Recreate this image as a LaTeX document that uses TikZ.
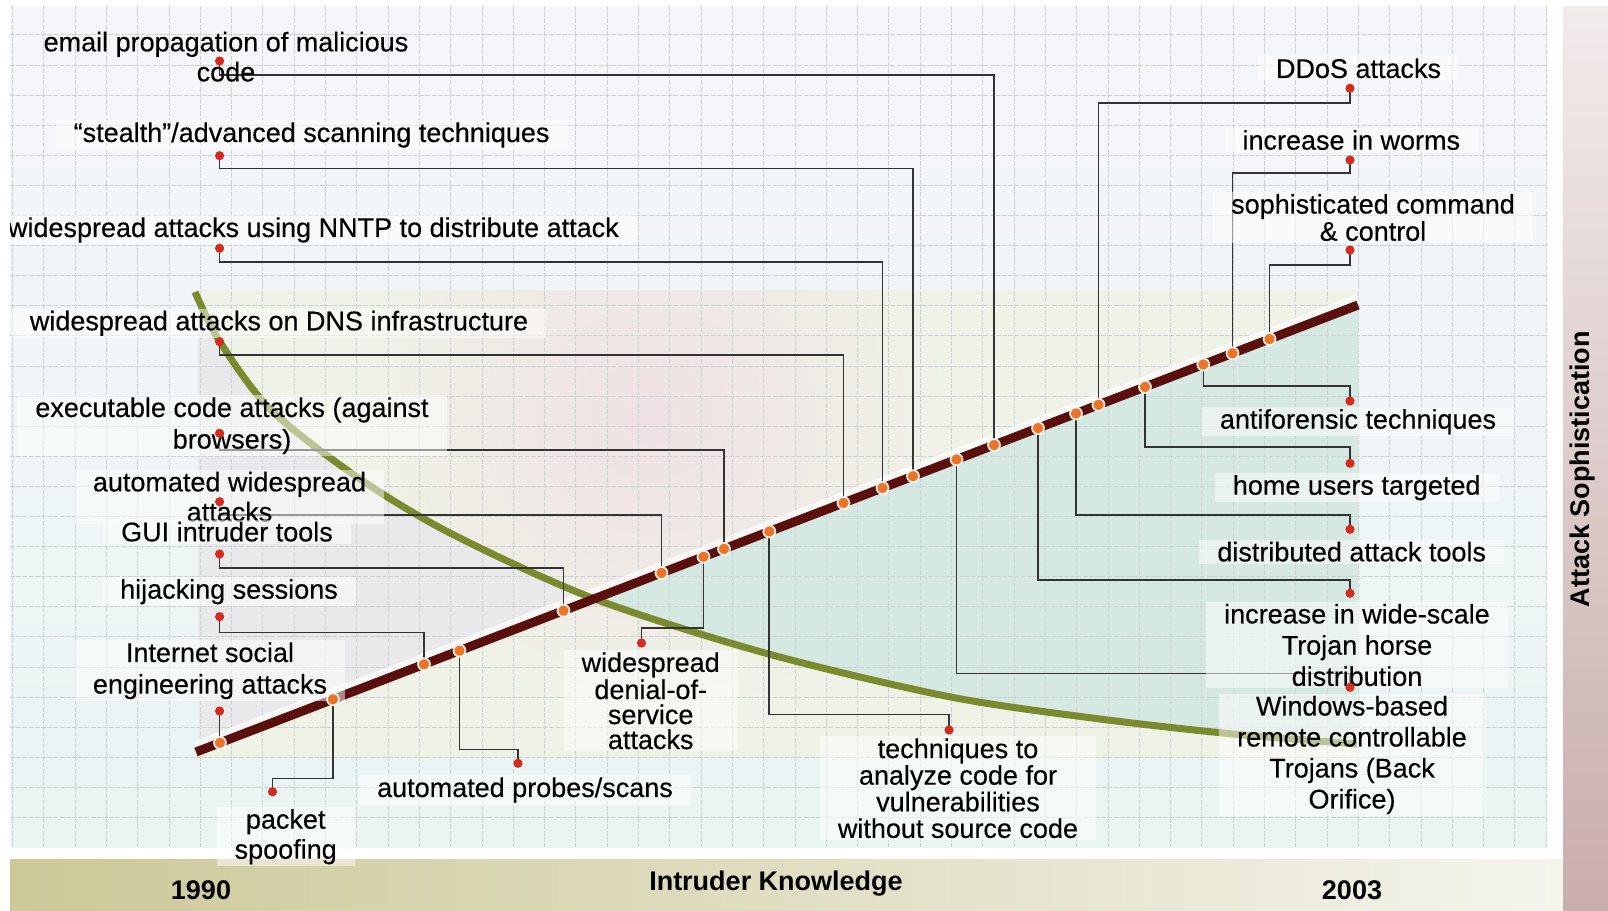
\documentclass[tikz,border=0pt]{standalone}
\usepackage{fontspec}
\setmainfont{Liberation Sans}
\newfontfamily\labfont{Liberation Sans}[FakeBold=0.35]
\usetikzlibrary{calc}

\definecolor{gridline}{HTML}{CDD2D5}
\definecolor{trendred}{HTML}{5A0F0C}
\definecolor{knowgreen}{HTML}{7A8A2E}
\definecolor{markorange}{HTML}{EB7428}
\definecolor{dotred}{HTML}{D52A20}
\definecolor{wire}{HTML}{333333}
\definecolor{tealfill}{HTML}{D5E8E1}
\definecolor{grayfill}{HTML}{E9E9EC}
\definecolor{creamfill}{HTML}{EFF2E6}
\definecolor{pinkglow}{HTML}{EFE1E4}
\definecolor{topbase}{HTML}{F6F6FA}
\definecolor{lowbase}{HTML}{E9F4F3}
\definecolor{bandleft}{HTML}{CDC898}
\definecolor{bandright}{HTML}{F4F4EC}
\definecolor{sidetop}{HTML}{F2EBEB}
\definecolor{sidebottom}{HTML}{C8AEAC}

% point on the trend line at a given horizontal position
\newcommand\onTrend[2]{\coordinate (#1) at ($(t0)!{(#2-196)/1162}!(t1)$);}

\tikzset{
  lab/.style={align=center, font=\labfont\fontsize{13.5}{15.5}\selectfont,
    fill=white, fill opacity=0.5, text opacity=1,
    inner xsep=9pt, inner ysep=1pt},
  axislab/.style={font=\bfseries\fontsize{13.5}{15}\selectfont, inner sep=0pt},
  wire/.style={draw=wire, line width=0.8pt},
  marker/.style={circle, minimum size=6pt, inner sep=0pt, fill=markorange,
    draw=white, draw opacity=0.85, line width=0.9pt},
  reddot/.style={circle, minimum size=4.6pt, inner sep=0pt, fill=dotred},
  gridrule/.style={draw=gridline, line width=0.5pt, dash pattern=on 2.5pt off 0.6pt},
}

\begin{document}
\begin{tikzpicture}[x=0.5pt, y=-0.5pt]
\useasboundingbox (0,0) rectangle (1608,911);
\begin{scope}
\clip (10,6) rectangle (1608,911);

% backgrounds
\shade[top color=topbase, bottom color=lowbase] (10,6) rectangle (1547,847);
\fill[creamfill] (198,290) rectangle (1358,760);
\begin{scope}
  \clip (198,290) rectangle (1358,760);
  \shade[inner color=pinkglow, outer color=creamfill] (650,420) circle (300);
\end{scope}
\shade[left color=bandleft, right color=bandright] (10,859) rectangle (1563,911);
\shade[top color=sidetop, bottom color=sidebottom] (1563,6) rectangle (1608,911);

% trend line end points
\coordinate (t0) at (196,752);
\coordinate (t1) at (1358,305);

% areas between the two curves
\fill[grayfill] plot[smooth] coordinates {(198,297) (220,342) (271,410) (357,477)
  (450,533) (593.5,598.5)} -- (198,751.2) -- cycle;
\fill[tealfill] plot[smooth] coordinates {(593.5,598.5) (768.6,654) (950.7,697)
  (1100,719) (1233,734) (1357,744)} -- (t1) -- cycle;

% grid
\foreach \i in {0,...,49} \draw[gridrule] ({12.5+31.3*\i},6) -- ({12.5+31.3*\i},847);
\foreach \j in {1,...,27} \draw[gridrule] (10,{4.8+30.1*\j}) -- (1547,{4.8+30.1*\j});

% curves
\draw[white, opacity=0.7, line width=4pt] ($(t0)+(0,-7)$) -- ($(t1)+(0,-7)$);
\draw[knowgreen, line width=3.5pt] plot[smooth] coordinates {(195,292) (220,342)
  (271,410) (357,477) (450,533) (593.5,598.5) (768.6,654) (950.7,697)
  (1100,719) (1233,734) (1357,744)};
\draw[trendred, line width=4.5pt] (t0) -- (t1);

% points on the trend line
\onTrend{mSocial}{220}
\onTrend{mSpoof}{333}
\onTrend{mHijack}{424}
\onTrend{mProbe}{459.5}
\onTrend{mGui}{563.5}
\onTrend{mAuto}{661.5}
\onTrend{mDos}{703.5}
\onTrend{mExec}{724}
\onTrend{mAnalyze}{769.3}
\onTrend{mDns}{843.5}
\onTrend{mNntp}{882.5}
\onTrend{mStealth}{913}
\onTrend{mWin}{956.5}
\onTrend{mEmail}{994}
\onTrend{mTrojan}{1038}
\onTrend{mDist}{1076}
\onTrend{mDdos}{1098.5}
\onTrend{mHome}{1145}
\onTrend{mAnti}{1203.3}
\onTrend{mWorm}{1232.5}
\onTrend{mCc}{1269.5}

% label anchor dots
\coordinate (dEmail) at (219.6,61);
\coordinate (dStealth) at (219.6,155.7);
\coordinate (dNntp) at (219.6,248.3);
\coordinate (dDns) at (219.6,341.7);
\coordinate (dExec) at (219.6,433.3);
\coordinate (dAuto) at (219.6,501.7);
\coordinate (dGui) at (219.6,554);
\coordinate (dHijack) at (219.6,616.7);
\coordinate (dSocial) at (219.6,711);
\coordinate (dSpoof) at (272.5,791.7);
\coordinate (dProbe) at (518,763.3);
\coordinate (dDos) at (641.5,643);
\coordinate (dAnalyze) at (949,730);
\coordinate (dDdos) at (1350,88.3);
\coordinate (dWorm) at (1350,160);
\coordinate (dCc) at (1350,250);
\coordinate (dAnti) at (1350,401);
\coordinate (dHome) at (1350,463.3);
\coordinate (dDist) at (1350,529.3);
\coordinate (dTrojan) at (1350,593.3);
\coordinate (dWin) at (1350,687.3);

% connectors
\draw[wire] (dEmail) -- ++(0,14) -| (mEmail);
\draw[wire] (dStealth) -- ++(0,12.6) -| (mStealth);
\draw[wire] (dNntp) -- ++(0,13.4) -| (mNntp);
\draw[wire] (dDns) -- ++(0,13.3) -| (mDns);
\draw[wire] (dExec) -- ++(0,16.7) -| (mExec);
\draw[wire] (dAuto) -- ++(0,13.3) -| (mAuto);
\draw[wire] (dGui) -- ++(0,14) -| (mGui);
\draw[wire] (dHijack) -- ++(0,15.6) -| (mHijack);
\draw[wire] (dSocial) -- (dSocial |- mSocial);
\draw[wire] (dSpoof) -- ++(0,-13.4) -| (mSpoof);
\draw[wire] (dProbe) -- ++(0,-14) -| (mProbe);
\draw[wire] (dDos) -- ++(0,-15) -| (mDos);
\draw[wire] (dAnalyze) -- ++(0,-15.7) -| (mAnalyze);
\draw[wire] (dDdos) -- ++(0,14.4) -| (mDdos);
\draw[wire] (dWorm) -- ++(0,12.7) -| (mWorm);
\draw[wire] (dCc) -- ++(0,15) -| (mCc);
\draw[wire] (dAnti) -- ++(0,-15) -| (mAnti);
\draw[wire] (dHome) -- ++(0,-16.6) -| (mHome);
\draw[wire] (dDist) -- ++(0,-14.3) -| (mDist);
\draw[wire] (dTrojan) -- ++(0,-13.3) -| (mTrojan);
\draw[wire] (dWin) -- ++(0,-14) -| (mWin);

% labels
\node[lab, fill opacity=0, font=\labfont\fontsize{13.5}{15}\selectfont] (lEmail) at (226,56.7) {email propagation of malicious\\code};
\node[lab] (lStealth) at (311.6,135) {“stealth”/advanced scanning techniques};
\node[lab] (lNntp) at (313.4,230) {widespread attacks using NNTP to distribute attack};
\node[lab] (lDns) at (279,323.3) {widespread attacks on DNS infrastructure};
\node[lab, font=\labfont\fontsize{13.5}{15.8}\selectfont] (lExec) at (232,425.8) {executable code attacks (against\\browsers)};
\node[lab, font=\labfont\fontsize{13.5}{15}\selectfont] (lAuto) at (229.5,496.7) {automated widespread\\attacks};
\node[lab] (lGui) at (227,531.7) {GUI intruder tools};
\node[lab] (lHijack) at (229,591.7) {hijacking sessions};
\node[lab, font=\labfont\fontsize{13.5}{15.8}\selectfont] (lSocial) at (210,670.8) {Internet social\\engineering attacks};
\node[lab, font=\labfont\fontsize{13.5}{15}\selectfont] (lSpoof) at (285.7,836.7) {packet\\spoofing};
\node[lab] (lProbe) at (525,790) {automated probes/scans};
\node[lab, font=\labfont\fontsize{13.5}{12.5}\selectfont] (lDos) at (650.7,700.8) {widespread\\denial-of-\\service\\attacks};
\node[lab, font=\labfont\fontsize{13.5}{13.3}\selectfont] (lAnalyze) at (958,788.3) {techniques to\\analyze code for\\vulnerabilities\\without source code};
\node[lab] (lDdos) at (1358.5,68.3) {DDoS attacks};
\node[lab] (lWorm) at (1351.3,140) {increase in worms};
\node[lab, font=\labfont\fontsize{13.5}{12.5}\selectfont] (lCc) at (1373,217.5) {sophisticated command\\\& control};
\node[lab] (lAnti) at (1358,421.7) {antiforensic techniques};
\node[lab] (lHome) at (1356.7,487.7) {home users targeted};
\node[lab] (lDist) at (1351.7,551.7) {distributed attack tools};
\node[lab, font=\labfont\fontsize{13.5}{15.6}\selectfont] (lTrojan) at (1357,645) {increase in wide-scale\\Trojan horse\\distribution};
\node[lab] (lWin) at (1352,755) {Windows-based\\remote controllable\\Trojans (Back\\Orifice)};

% markers and dots
\foreach \m in {mSocial,mSpoof,mHijack,mProbe,mGui,mAuto,mDos,mExec,mAnalyze,mDns,
  mNntp,mStealth,mWin,mEmail,mTrojan,mDist,mDdos,mHome,mAnti,mWorm,mCc}
  \node[marker] (\m-pt) at (\m) {};
\foreach \d in {dEmail,dStealth,dNntp,dDns,dExec,dAuto,dGui,dHijack,dSocial,dSpoof,
  dProbe,dDos,dAnalyze,dDdos,dWorm,dCc,dAnti,dHome,dDist,dTrojan,dWin}
  \node[reddot] (\d-pt) at (\d) {};

% axis titles
\node[axislab] (yr0) at (201,890) {1990};
\node[axislab] (xtitle) at (776,884) {Intruder Knowledge};
\node[axislab] (yr1) at (1352,890) {2003};
\node[axislab, rotate=90] (ytitle) at (1583,469) {Attack Sophistication};
\end{scope}
\end{tikzpicture}
\end{document}
